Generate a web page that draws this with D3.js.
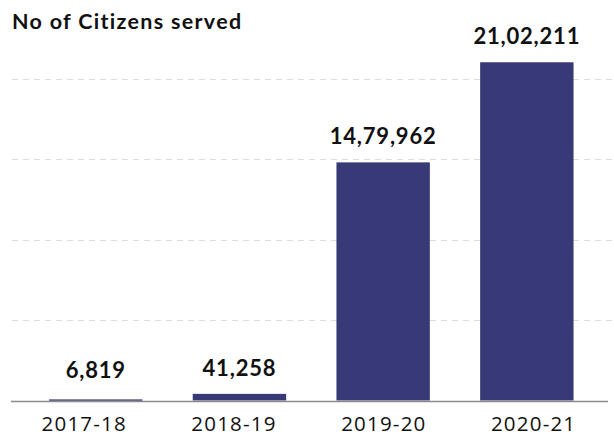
<!DOCTYPE html>
<html>
<head>
<meta charset="utf-8">
<script src="https://cdn.jsdelivr.net/npm/d3@7"></script>
<style>
  html, body { margin: 0; padding: 0; background: #fff; }
  svg { display: block; }
</style>
</head>
<body>
<svg id="chart" width="614" height="439"></svg>
<script>
const categories = ["2017-18", "2018-19", "2019-20", "2020-21"];
const values = [6819, 41258, 1479962, 2102211];
const valueLabels = ["6,819", "41,258", "14,79,962", "21,02,211"];
const gridTicks = [0, 500000, 1000000, 1500000, 2000000];
const title = "No of Citizens served";

const svg = d3.select("#chart");
const W = 614, H = 439;
const axisY = 401.5;

const y = d3.scaleLinear().domain([0, 2000000]).range([400.5, 78.7]);

const xBar = d3.scaleBand().domain(categories).range([23.9, 598.7])
  .paddingInner(0.35).paddingOuter(0.175);
const xLab = d3.scaleBand().domain(categories).range([9.3, 608.5]);

// gridlines
svg.append("g").selectAll("line")
  .data(gridTicks.filter(d => d > 0))
  .join("line")
  .attr("x1", 12).attr("x2", W)
  .attr("y1", d => Math.round(y(d)) + 0.5).attr("y2", d => Math.round(y(d)) + 0.5)
  .attr("stroke", "#dcdcdc").attr("stroke-width", 1)
  .attr("stroke-dasharray", "6,5");

// bars
svg.append("g").selectAll("rect")
  .data(categories)
  .join("rect")
  .attr("x", d => xBar(d))
  .attr("width", xBar.bandwidth())
  .attr("y", (d, i) => y(values[i]))
  .attr("height", (d, i) => Math.max(y(0) - y(values[i]), 1.4))
  .attr("fill", "#383a78");

// axis
const xAxis = d3.axisBottom(xLab).tickSize(0).tickPadding(0);
const gx = svg.append("g").attr("transform", `translate(0,${axisY})`).call(xAxis);
gx.select(".domain").attr("d", `M11,0H608`).attr("stroke", "#8a8a8a").attr("stroke-width", 1.5);
gx.selectAll(".tick text")
  .attr("y", 29.5).attr("dy", null)
  .attr("font-family", "'Open Sans', sans-serif")
  .attr("font-size", 20.5)
  .attr("letter-spacing", "1.2px")
  .attr("fill", "#111");

// value labels
svg.append("g").selectAll("text")
  .data(categories)
  .join("text")
  .attr("x", d => xBar(d) + xBar.bandwidth() / 2)
  .attr("y", (d, i) => Math.min(y(values[i]) - 18, axisY - 23.5))
  .attr("text-anchor", "middle")
  .attr("font-family", "Lato, sans-serif")
  .attr("font-weight", 700)
  .attr("font-size", 22)
  .attr("letter-spacing", "0.8px")
  .attr("fill", "#111")
  .text((d, i) => valueLabels[i]);

// title
svg.append("text")
  .attr("x", 12).attr("y", 29)
  .attr("font-family", "Lato, sans-serif")
  .attr("font-weight", 700)
  .attr("font-size", 21.5)
  .attr("letter-spacing", "1.3px")
  .attr("fill", "#111")
  .text(title);
</script>
</body>
</html>
